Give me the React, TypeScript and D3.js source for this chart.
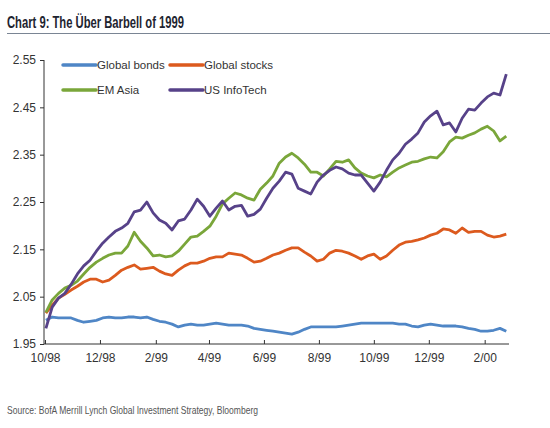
import React, { useEffect, useRef } from 'react';
import * as d3 from 'd3';

// weekly observations, first one on 2 Oct 1998
const startDate = new Date(1998, 9, 2);
const weekCount = 74;

const globalBonds = [
    2.000, 2.007, 2.005, 2.005, 2.005, 2.000, 1.996, 1.998, 2.000, 2.005,
    2.007, 2.005, 2.005, 2.007, 2.007, 2.005, 2.007, 2.002, 1.998, 1.996,
    1.992, 1.986, 1.990, 1.992, 1.990, 1.990, 1.992, 1.994, 1.992, 1.990,
    1.990, 1.990, 1.988, 1.983, 1.981, 1.979, 1.977, 1.975, 1.973, 1.971,
    1.975, 1.981, 1.986, 1.986, 1.986, 1.986, 1.986, 1.988, 1.990, 1.992,
    1.994, 1.994, 1.994, 1.994, 1.994, 1.994, 1.992, 1.992, 1.988, 1.986,
    1.990, 1.992, 1.990, 1.988, 1.988, 1.988, 1.986, 1.983, 1.981, 1.977,
    1.977, 1.979, 1.983, 1.977
];

const globalStocks = [
    2.015, 2.032, 2.047, 2.055, 2.064, 2.072, 2.081, 2.087, 2.087, 2.081,
    2.085, 2.095, 2.106, 2.112, 2.117, 2.108, 2.110, 2.112, 2.104, 2.098,
    2.095, 2.106, 2.115, 2.121, 2.121, 2.125, 2.131, 2.134, 2.134, 2.142,
    2.140, 2.138, 2.131, 2.123, 2.125, 2.131, 2.138, 2.142, 2.148, 2.153,
    2.153, 2.144, 2.136, 2.125, 2.129, 2.142, 2.148, 2.146, 2.142, 2.136,
    2.129, 2.136, 2.140, 2.129, 2.136, 2.148, 2.159, 2.165, 2.167, 2.170,
    2.174, 2.180, 2.184, 2.193, 2.191, 2.184, 2.195, 2.186, 2.188, 2.188,
    2.180, 2.176, 2.178, 2.182
];

const emAsia = [
    2.017, 2.043, 2.057, 2.068, 2.074, 2.083, 2.098, 2.112, 2.123, 2.131,
    2.138, 2.142, 2.142, 2.157, 2.186, 2.167, 2.153, 2.136, 2.138, 2.134,
    2.136, 2.146, 2.161, 2.176, 2.178, 2.188, 2.199, 2.220, 2.246, 2.258,
    2.269, 2.265, 2.258, 2.254, 2.277, 2.290, 2.305, 2.332, 2.345, 2.353,
    2.343, 2.330, 2.313, 2.313, 2.305, 2.320, 2.336, 2.334, 2.339, 2.322,
    2.311, 2.305, 2.301, 2.307, 2.303, 2.313, 2.322, 2.328, 2.334, 2.336,
    2.341, 2.345, 2.343, 2.356, 2.377, 2.387, 2.385, 2.391, 2.396, 2.404,
    2.410, 2.400, 2.379, 2.389
];

const usInfoTech = [
    1.983, 2.028, 2.047, 2.057, 2.076, 2.098, 2.115, 2.127, 2.146, 2.163,
    2.176, 2.188, 2.195, 2.205, 2.229, 2.233, 2.250, 2.227, 2.212, 2.205,
    2.191, 2.210, 2.214, 2.233, 2.256, 2.241, 2.220, 2.237, 2.252, 2.233,
    2.241, 2.243, 2.220, 2.224, 2.235, 2.258, 2.279, 2.294, 2.313, 2.309,
    2.279, 2.273, 2.267, 2.292, 2.307, 2.317, 2.324, 2.320, 2.311, 2.307,
    2.307, 2.290, 2.273, 2.292, 2.317, 2.339, 2.353, 2.372, 2.383, 2.396,
    2.419, 2.432, 2.442, 2.413, 2.417, 2.398, 2.427, 2.446, 2.444, 2.459,
    2.472, 2.480, 2.476, 2.520
];

const seriesNames = ['Global bonds', 'Global stocks', 'EM Asia', 'US InfoTech'];
const seriesColors = ['#4f86c6', '#dc5a1e', '#7aa63a', '#574289'];
const yTicks = [1.95, 2.05, 2.15, 2.25, 2.35, 2.45, 2.55];

const W = 550;
const H = 428;
const FONT = '"Liberation Sans Narrow", "Liberation Sans", Arial, sans-serif';

const App: React.FC = () => {
    const svgRef = useRef<SVGSVGElement>(null);

    useEffect(() => {
        document.body.style.margin = '0';
        const svg = d3.select(svgRef.current);
        svg.selectAll('*').remove();

        const dates = d3.range(weekCount).map(i => d3.timeDay.offset(startDate, i * 7));
        const allSeries = [globalBonds, globalStocks, emAsia, usInfoTech];

        const x = d3.scaleTime()
            .domain([new Date(1998, 9, 1), new Date(2000, 1, 28)])
            .range([45, 509]);
        const y = d3.scaleLinear().domain([1.95, 2.55]).range([344, 60]);

        // Title + rule
        svg.append('text')
            .attr('x', 7).attr('y', 28)
            .attr('font-family', FONT)
            .attr('font-weight', 'bold')
            .attr('font-size', 16)
            .attr('fill', '#1e2430')
            .attr('textLength', 177)
            .attr('lengthAdjust', 'spacingAndGlyphs')
            .text('Chart 9: The Über Barbell of 1999');
        svg.append('line')
            .attr('x1', 7).attr('x2', W)
            .attr('y1', 33.5).attr('y2', 33.5)
            .attr('stroke', '#7a8594')
            .attr('stroke-width', 1);

        // Lines
        const line = d3.line<number>()
            .x((_, i) => x(dates[i]))
            .y(d => y(d))
            .curve(d3.curveLinear);

        allSeries.forEach((s, k) => {
            svg.append('path')
                .datum(s)
                .attr('d', line)
                .attr('fill', 'none')
                .attr('stroke', seriesColors[k])
                .attr('stroke-width', 2.8)
                .attr('stroke-linejoin', 'round');
        });

        // Y axis
        const yAxis = svg.append('g')
            .attr('transform', 'translate(44,0)')
            .call(d3.axisLeft(y).tickValues(yTicks).tickSize(4).tickFormat(d3.format('.2f')));
        yAxis.select('.domain').attr('stroke', '#333').attr('d', `M0,${y(2.55)}V${y(1.95)}`);
        yAxis.selectAll('line').attr('stroke', '#333');
        yAxis.selectAll('text')
            .attr('font-family', FONT)
            .attr('font-size', 12)
            .attr('fill', '#333')
            .attr('x', -8);

        // X axis, a tick every second month from 10/98
        const xTicks = d3.timeMonth.range(new Date(1998, 9, 1), new Date(2000, 2, 1), 2);
        const xAxis = svg.append('g')
            .attr('transform', `translate(0,${y(1.95)})`)
            .call(d3.axisBottom(x).tickValues(xTicks).tickSize(-4).tickSizeOuter(0)
                .tickFormat(d => d3.timeFormat('%-m/%y')(d as Date)));
        xAxis.select('.domain').attr('stroke', '#333').attr('d', 'M44,0H509');
        xAxis.selectAll('line').attr('stroke', '#333');
        xAxis.selectAll('text')
            .attr('font-family', FONT)
            .attr('font-size', 12)
            .attr('fill', '#333')
            .attr('y', 9);

        // Legend
        const legendPos = [[63, 65], [170, 65], [63, 90], [170, 90]];
        seriesNames.forEach((name, k) => {
            const [lx, ly] = legendPos[k];
            svg.append('line')
                .attr('x1', lx).attr('x2', lx + 33)
                .attr('y1', ly).attr('y2', ly)
                .attr('stroke', seriesColors[k])
                .attr('stroke-width', 3.5)
                .attr('stroke-linecap', 'round');
            svg.append('text')
                .attr('x', lx + 34).attr('y', ly + 4)
                .attr('font-family', FONT)
                .attr('font-size', 11.5)
                .attr('fill', '#333')
                .text(name);
        });

        // Source
        svg.append('text')
            .attr('x', 7).attr('y', 414)
            .attr('font-family', FONT)
            .attr('font-size', 11)
            .attr('fill', '#555')
            .attr('textLength', 251)
            .attr('lengthAdjust', 'spacingAndGlyphs')
            .text('Source: BofA Merrill Lynch Global Investment Strategy, Bloomberg');
    }, []);

    return <svg ref={svgRef} width={W} height={H} style={{ display: 'block', background: '#fff' }} />;
};

export default App;
